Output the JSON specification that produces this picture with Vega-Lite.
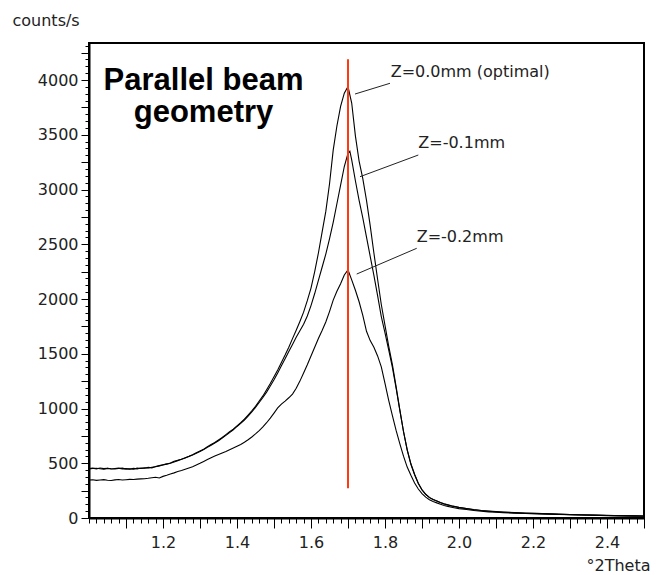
{
  "$schema": "https://vega.github.io/schema/vega-lite/v6.json",
  "width": 555,
  "height": 475,
  "autosize": {"type": "none"},
  "padding": {"left": 89, "top": 43, "right": 12, "bottom": 57},
  "background": "#ffffff",
  "config": {
    "view": {"stroke": "#000000", "strokeWidth": 2},
    "font": "DejaVu Sans"
  },
  "datasets": {
    "scans": [
      {"z": "0.0", "t": 1.00, "c": 452}, {"z": "0.0", "t": 1.01, "c": 455}, {"z": "0.0", "t": 1.02, "c": 449}, {"z": "0.0", "t": 1.03, "c": 456}, {"z": "0.0", "t": 1.04, "c": 451},
      {"z": "0.0", "t": 1.05, "c": 453}, {"z": "0.0", "t": 1.06, "c": 447}, {"z": "0.0", "t": 1.07, "c": 452}, {"z": "0.0", "t": 1.08, "c": 455}, {"z": "0.0", "t": 1.09, "c": 449},
      {"z": "0.0", "t": 1.10, "c": 451}, {"z": "0.0", "t": 1.11, "c": 446}, {"z": "0.0", "t": 1.12, "c": 453}, {"z": "0.0", "t": 1.13, "c": 449}, {"z": "0.0", "t": 1.14, "c": 457},
      {"z": "0.0", "t": 1.15, "c": 455}, {"z": "0.0", "t": 1.16, "c": 462}, {"z": "0.0", "t": 1.17, "c": 458}, {"z": "0.0", "t": 1.18, "c": 470}, {"z": "0.0", "t": 1.19, "c": 478},
      {"z": "0.0", "t": 1.20, "c": 486}, {"z": "0.0", "t": 1.21, "c": 494}, {"z": "0.0", "t": 1.22, "c": 503}, {"z": "0.0", "t": 1.23, "c": 518}, {"z": "0.0", "t": 1.24, "c": 528},
      {"z": "0.0", "t": 1.25, "c": 537}, {"z": "0.0", "t": 1.26, "c": 551}, {"z": "0.0", "t": 1.27, "c": 563}, {"z": "0.0", "t": 1.28, "c": 578}, {"z": "0.0", "t": 1.29, "c": 596},
      {"z": "0.0", "t": 1.30, "c": 612}, {"z": "0.0", "t": 1.31, "c": 628}, {"z": "0.0", "t": 1.32, "c": 650}, {"z": "0.0", "t": 1.33, "c": 671}, {"z": "0.0", "t": 1.34, "c": 690},
      {"z": "0.0", "t": 1.35, "c": 712}, {"z": "0.0", "t": 1.36, "c": 735}, {"z": "0.0", "t": 1.37, "c": 762}, {"z": "0.0", "t": 1.38, "c": 788}, {"z": "0.0", "t": 1.39, "c": 812},
      {"z": "0.0", "t": 1.40, "c": 842}, {"z": "0.0", "t": 1.41, "c": 870}, {"z": "0.0", "t": 1.42, "c": 902}, {"z": "0.0", "t": 1.43, "c": 940}, {"z": "0.0", "t": 1.44, "c": 978},
      {"z": "0.0", "t": 1.45, "c": 1020}, {"z": "0.0", "t": 1.46, "c": 1068}, {"z": "0.0", "t": 1.47, "c": 1115}, {"z": "0.0", "t": 1.48, "c": 1172}, {"z": "0.0", "t": 1.49, "c": 1228},
      {"z": "0.0", "t": 1.50, "c": 1290}, {"z": "0.0", "t": 1.51, "c": 1352}, {"z": "0.0", "t": 1.52, "c": 1420}, {"z": "0.0", "t": 1.53, "c": 1488}, {"z": "0.0", "t": 1.54, "c": 1560},
      {"z": "0.0", "t": 1.55, "c": 1638}, {"z": "0.0", "t": 1.56, "c": 1715}, {"z": "0.0", "t": 1.57, "c": 1795}, {"z": "0.0", "t": 1.58, "c": 1880}, {"z": "0.0", "t": 1.59, "c": 1985},
      {"z": "0.0", "t": 1.60, "c": 2100}, {"z": "0.0", "t": 1.61, "c": 2250}, {"z": "0.0", "t": 1.62, "c": 2420}, {"z": "0.0", "t": 1.63, "c": 2610}, {"z": "0.0", "t": 1.64, "c": 2800},
      {"z": "0.0", "t": 1.65, "c": 3050}, {"z": "0.0", "t": 1.66, "c": 3360}, {"z": "0.0", "t": 1.67, "c": 3580}, {"z": "0.0", "t": 1.68, "c": 3760}, {"z": "0.0", "t": 1.69, "c": 3880},
      {"z": "0.0", "t": 1.70, "c": 3940}, {"z": "0.0", "t": 1.71, "c": 3790}, {"z": "0.0", "t": 1.72, "c": 3490}, {"z": "0.0", "t": 1.73, "c": 3260}, {"z": "0.0", "t": 1.74, "c": 3100},
      {"z": "0.0", "t": 1.75, "c": 2900}, {"z": "0.0", "t": 1.76, "c": 2670}, {"z": "0.0", "t": 1.77, "c": 2420}, {"z": "0.0", "t": 1.78, "c": 2180}, {"z": "0.0", "t": 1.79, "c": 1950},
      {"z": "0.0", "t": 1.80, "c": 1760}, {"z": "0.0", "t": 1.81, "c": 1570}, {"z": "0.0", "t": 1.82, "c": 1400}, {"z": "0.0", "t": 1.83, "c": 1200}, {"z": "0.0", "t": 1.84, "c": 990},
      {"z": "0.0", "t": 1.85, "c": 790}, {"z": "0.0", "t": 1.86, "c": 620}, {"z": "0.0", "t": 1.87, "c": 490}, {"z": "0.0", "t": 1.88, "c": 395}, {"z": "0.0", "t": 1.89, "c": 315},
      {"z": "0.0", "t": 1.90, "c": 256}, {"z": "0.0", "t": 1.91, "c": 215}, {"z": "0.0", "t": 1.92, "c": 186}, {"z": "0.0", "t": 1.93, "c": 168}, {"z": "0.0", "t": 1.94, "c": 155},
      {"z": "0.0", "t": 1.95, "c": 140}, {"z": "0.0", "t": 1.96, "c": 128}, {"z": "0.0", "t": 1.97, "c": 119}, {"z": "0.0", "t": 1.98, "c": 110}, {"z": "0.0", "t": 1.99, "c": 103},
      {"z": "0.0", "t": 2.00, "c": 96}, {"z": "0.0", "t": 2.02, "c": 86}, {"z": "0.0", "t": 2.04, "c": 76}, {"z": "0.0", "t": 2.06, "c": 68}, {"z": "0.0", "t": 2.08, "c": 62},
      {"z": "0.0", "t": 2.10, "c": 57}, {"z": "0.0", "t": 2.12, "c": 53}, {"z": "0.0", "t": 2.15, "c": 48}, {"z": "0.0", "t": 2.18, "c": 44}, {"z": "0.0", "t": 2.21, "c": 41},
      {"z": "0.0", "t": 2.24, "c": 38}, {"z": "0.0", "t": 2.27, "c": 34}, {"z": "0.0", "t": 2.30, "c": 31}, {"z": "0.0", "t": 2.33, "c": 28}, {"z": "0.0", "t": 2.36, "c": 26},
      {"z": "0.0", "t": 2.40, "c": 23}, {"z": "0.0", "t": 2.44, "c": 21}, {"z": "0.0", "t": 2.47, "c": 19}, {"z": "0.0", "t": 2.50, "c": 18},

      {"z": "-0.1", "t": 1.00, "c": 448}, {"z": "-0.1", "t": 1.01, "c": 452}, {"z": "-0.1", "t": 1.02, "c": 455}, {"z": "-0.1", "t": 1.03, "c": 450}, {"z": "-0.1", "t": 1.04, "c": 446},
      {"z": "-0.1", "t": 1.05, "c": 454}, {"z": "-0.1", "t": 1.06, "c": 450}, {"z": "-0.1", "t": 1.07, "c": 448}, {"z": "-0.1", "t": 1.08, "c": 452}, {"z": "-0.1", "t": 1.09, "c": 455},
      {"z": "-0.1", "t": 1.10, "c": 447}, {"z": "-0.1", "t": 1.11, "c": 450}, {"z": "-0.1", "t": 1.12, "c": 446}, {"z": "-0.1", "t": 1.13, "c": 455}, {"z": "-0.1", "t": 1.14, "c": 452},
      {"z": "-0.1", "t": 1.15, "c": 458}, {"z": "-0.1", "t": 1.16, "c": 456}, {"z": "-0.1", "t": 1.17, "c": 464}, {"z": "-0.1", "t": 1.18, "c": 468}, {"z": "-0.1", "t": 1.19, "c": 476},
      {"z": "-0.1", "t": 1.20, "c": 484}, {"z": "-0.1", "t": 1.21, "c": 492}, {"z": "-0.1", "t": 1.22, "c": 500}, {"z": "-0.1", "t": 1.23, "c": 512}, {"z": "-0.1", "t": 1.24, "c": 524},
      {"z": "-0.1", "t": 1.25, "c": 536}, {"z": "-0.1", "t": 1.26, "c": 548}, {"z": "-0.1", "t": 1.27, "c": 561}, {"z": "-0.1", "t": 1.28, "c": 575}, {"z": "-0.1", "t": 1.29, "c": 592},
      {"z": "-0.1", "t": 1.30, "c": 608}, {"z": "-0.1", "t": 1.31, "c": 626}, {"z": "-0.1", "t": 1.32, "c": 645}, {"z": "-0.1", "t": 1.33, "c": 665}, {"z": "-0.1", "t": 1.34, "c": 685},
      {"z": "-0.1", "t": 1.35, "c": 706}, {"z": "-0.1", "t": 1.36, "c": 730}, {"z": "-0.1", "t": 1.37, "c": 755}, {"z": "-0.1", "t": 1.38, "c": 780}, {"z": "-0.1", "t": 1.39, "c": 806},
      {"z": "-0.1", "t": 1.40, "c": 836}, {"z": "-0.1", "t": 1.41, "c": 864}, {"z": "-0.1", "t": 1.42, "c": 895}, {"z": "-0.1", "t": 1.43, "c": 930}, {"z": "-0.1", "t": 1.44, "c": 968},
      {"z": "-0.1", "t": 1.45, "c": 1010}, {"z": "-0.1", "t": 1.46, "c": 1055}, {"z": "-0.1", "t": 1.47, "c": 1100}, {"z": "-0.1", "t": 1.48, "c": 1150}, {"z": "-0.1", "t": 1.49, "c": 1205},
      {"z": "-0.1", "t": 1.50, "c": 1262}, {"z": "-0.1", "t": 1.51, "c": 1325}, {"z": "-0.1", "t": 1.52, "c": 1390}, {"z": "-0.1", "t": 1.53, "c": 1455}, {"z": "-0.1", "t": 1.54, "c": 1520},
      {"z": "-0.1", "t": 1.55, "c": 1585}, {"z": "-0.1", "t": 1.56, "c": 1650}, {"z": "-0.1", "t": 1.57, "c": 1710}, {"z": "-0.1", "t": 1.58, "c": 1770}, {"z": "-0.1", "t": 1.59, "c": 1845},
      {"z": "-0.1", "t": 1.60, "c": 1940}, {"z": "-0.1", "t": 1.61, "c": 2050}, {"z": "-0.1", "t": 1.62, "c": 2170}, {"z": "-0.1", "t": 1.63, "c": 2290}, {"z": "-0.1", "t": 1.64, "c": 2410},
      {"z": "-0.1", "t": 1.65, "c": 2550}, {"z": "-0.1", "t": 1.66, "c": 2700}, {"z": "-0.1", "t": 1.67, "c": 2870}, {"z": "-0.1", "t": 1.68, "c": 3040}, {"z": "-0.1", "t": 1.69, "c": 3210},
      {"z": "-0.1", "t": 1.70, "c": 3330}, {"z": "-0.1", "t": 1.705, "c": 3350}, {"z": "-0.1", "t": 1.71, "c": 3270}, {"z": "-0.1", "t": 1.72, "c": 3080}, {"z": "-0.1", "t": 1.73, "c": 2900},
      {"z": "-0.1", "t": 1.74, "c": 2740}, {"z": "-0.1", "t": 1.75, "c": 2565}, {"z": "-0.1", "t": 1.76, "c": 2390}, {"z": "-0.1", "t": 1.77, "c": 2215}, {"z": "-0.1", "t": 1.78, "c": 2030},
      {"z": "-0.1", "t": 1.79, "c": 1840}, {"z": "-0.1", "t": 1.80, "c": 1690}, {"z": "-0.1", "t": 1.81, "c": 1535}, {"z": "-0.1", "t": 1.82, "c": 1375}, {"z": "-0.1", "t": 1.83, "c": 1185},
      {"z": "-0.1", "t": 1.84, "c": 985}, {"z": "-0.1", "t": 1.85, "c": 790}, {"z": "-0.1", "t": 1.86, "c": 625}, {"z": "-0.1", "t": 1.87, "c": 495}, {"z": "-0.1", "t": 1.88, "c": 400},
      {"z": "-0.1", "t": 1.89, "c": 318}, {"z": "-0.1", "t": 1.90, "c": 258}, {"z": "-0.1", "t": 1.91, "c": 217}, {"z": "-0.1", "t": 1.92, "c": 188}, {"z": "-0.1", "t": 1.93, "c": 170},
      {"z": "-0.1", "t": 1.94, "c": 156}, {"z": "-0.1", "t": 1.95, "c": 142}, {"z": "-0.1", "t": 1.96, "c": 129}, {"z": "-0.1", "t": 1.97, "c": 120}, {"z": "-0.1", "t": 1.98, "c": 111},
      {"z": "-0.1", "t": 1.99, "c": 104}, {"z": "-0.1", "t": 2.00, "c": 97}, {"z": "-0.1", "t": 2.02, "c": 87}, {"z": "-0.1", "t": 2.04, "c": 77}, {"z": "-0.1", "t": 2.06, "c": 69},
      {"z": "-0.1", "t": 2.08, "c": 63}, {"z": "-0.1", "t": 2.10, "c": 58}, {"z": "-0.1", "t": 2.12, "c": 54}, {"z": "-0.1", "t": 2.15, "c": 49}, {"z": "-0.1", "t": 2.18, "c": 45},
      {"z": "-0.1", "t": 2.21, "c": 42}, {"z": "-0.1", "t": 2.24, "c": 39}, {"z": "-0.1", "t": 2.27, "c": 35}, {"z": "-0.1", "t": 2.30, "c": 32}, {"z": "-0.1", "t": 2.33, "c": 29},
      {"z": "-0.1", "t": 2.36, "c": 27}, {"z": "-0.1", "t": 2.40, "c": 24}, {"z": "-0.1", "t": 2.44, "c": 21}, {"z": "-0.1", "t": 2.47, "c": 20}, {"z": "-0.1", "t": 2.50, "c": 18},

      {"z": "-0.2", "t": 1.00, "c": 346}, {"z": "-0.2", "t": 1.01, "c": 349}, {"z": "-0.2", "t": 1.02, "c": 344}, {"z": "-0.2", "t": 1.03, "c": 347}, {"z": "-0.2", "t": 1.04, "c": 350},
      {"z": "-0.2", "t": 1.05, "c": 345}, {"z": "-0.2", "t": 1.06, "c": 342}, {"z": "-0.2", "t": 1.07, "c": 348}, {"z": "-0.2", "t": 1.08, "c": 351}, {"z": "-0.2", "t": 1.09, "c": 347},
      {"z": "-0.2", "t": 1.10, "c": 350}, {"z": "-0.2", "t": 1.11, "c": 353}, {"z": "-0.2", "t": 1.12, "c": 351}, {"z": "-0.2", "t": 1.13, "c": 355}, {"z": "-0.2", "t": 1.14, "c": 357},
      {"z": "-0.2", "t": 1.15, "c": 359}, {"z": "-0.2", "t": 1.16, "c": 363}, {"z": "-0.2", "t": 1.17, "c": 368}, {"z": "-0.2", "t": 1.18, "c": 372}, {"z": "-0.2", "t": 1.19, "c": 366},
      {"z": "-0.2", "t": 1.20, "c": 380}, {"z": "-0.2", "t": 1.21, "c": 390}, {"z": "-0.2", "t": 1.22, "c": 401}, {"z": "-0.2", "t": 1.23, "c": 412}, {"z": "-0.2", "t": 1.24, "c": 424},
      {"z": "-0.2", "t": 1.25, "c": 434}, {"z": "-0.2", "t": 1.26, "c": 446}, {"z": "-0.2", "t": 1.27, "c": 457}, {"z": "-0.2", "t": 1.28, "c": 468}, {"z": "-0.2", "t": 1.29, "c": 484},
      {"z": "-0.2", "t": 1.30, "c": 500}, {"z": "-0.2", "t": 1.31, "c": 517}, {"z": "-0.2", "t": 1.32, "c": 534}, {"z": "-0.2", "t": 1.33, "c": 551}, {"z": "-0.2", "t": 1.34, "c": 566},
      {"z": "-0.2", "t": 1.35, "c": 580}, {"z": "-0.2", "t": 1.36, "c": 594}, {"z": "-0.2", "t": 1.37, "c": 608}, {"z": "-0.2", "t": 1.38, "c": 624}, {"z": "-0.2", "t": 1.39, "c": 640},
      {"z": "-0.2", "t": 1.40, "c": 656}, {"z": "-0.2", "t": 1.41, "c": 672}, {"z": "-0.2", "t": 1.42, "c": 692}, {"z": "-0.2", "t": 1.43, "c": 715}, {"z": "-0.2", "t": 1.44, "c": 740},
      {"z": "-0.2", "t": 1.45, "c": 768}, {"z": "-0.2", "t": 1.46, "c": 798}, {"z": "-0.2", "t": 1.47, "c": 832}, {"z": "-0.2", "t": 1.48, "c": 870}, {"z": "-0.2", "t": 1.49, "c": 912},
      {"z": "-0.2", "t": 1.50, "c": 958}, {"z": "-0.2", "t": 1.51, "c": 1005}, {"z": "-0.2", "t": 1.52, "c": 1040}, {"z": "-0.2", "t": 1.53, "c": 1068}, {"z": "-0.2", "t": 1.54, "c": 1098},
      {"z": "-0.2", "t": 1.55, "c": 1132}, {"z": "-0.2", "t": 1.56, "c": 1185}, {"z": "-0.2", "t": 1.57, "c": 1250}, {"z": "-0.2", "t": 1.58, "c": 1325}, {"z": "-0.2", "t": 1.59, "c": 1400},
      {"z": "-0.2", "t": 1.60, "c": 1480}, {"z": "-0.2", "t": 1.61, "c": 1560}, {"z": "-0.2", "t": 1.62, "c": 1640}, {"z": "-0.2", "t": 1.63, "c": 1712}, {"z": "-0.2", "t": 1.64, "c": 1790},
      {"z": "-0.2", "t": 1.65, "c": 1885}, {"z": "-0.2", "t": 1.66, "c": 1990}, {"z": "-0.2", "t": 1.67, "c": 2070}, {"z": "-0.2", "t": 1.68, "c": 2140}, {"z": "-0.2", "t": 1.69, "c": 2220},
      {"z": "-0.2", "t": 1.70, "c": 2265}, {"z": "-0.2", "t": 1.71, "c": 2175}, {"z": "-0.2", "t": 1.72, "c": 2080}, {"z": "-0.2", "t": 1.73, "c": 1975}, {"z": "-0.2", "t": 1.74, "c": 1850},
      {"z": "-0.2", "t": 1.75, "c": 1705}, {"z": "-0.2", "t": 1.76, "c": 1620}, {"z": "-0.2", "t": 1.77, "c": 1560}, {"z": "-0.2", "t": 1.78, "c": 1480}, {"z": "-0.2", "t": 1.79, "c": 1380},
      {"z": "-0.2", "t": 1.80, "c": 1230}, {"z": "-0.2", "t": 1.81, "c": 1075}, {"z": "-0.2", "t": 1.82, "c": 935}, {"z": "-0.2", "t": 1.83, "c": 800}, {"z": "-0.2", "t": 1.84, "c": 680},
      {"z": "-0.2", "t": 1.85, "c": 565}, {"z": "-0.2", "t": 1.86, "c": 465}, {"z": "-0.2", "t": 1.87, "c": 390}, {"z": "-0.2", "t": 1.88, "c": 320}, {"z": "-0.2", "t": 1.89, "c": 265},
      {"z": "-0.2", "t": 1.90, "c": 222}, {"z": "-0.2", "t": 1.91, "c": 190}, {"z": "-0.2", "t": 1.92, "c": 166}, {"z": "-0.2", "t": 1.93, "c": 150}, {"z": "-0.2", "t": 1.94, "c": 138},
      {"z": "-0.2", "t": 1.95, "c": 126}, {"z": "-0.2", "t": 1.96, "c": 115}, {"z": "-0.2", "t": 1.97, "c": 106}, {"z": "-0.2", "t": 1.98, "c": 98}, {"z": "-0.2", "t": 1.99, "c": 92},
      {"z": "-0.2", "t": 2.00, "c": 86}, {"z": "-0.2", "t": 2.02, "c": 77}, {"z": "-0.2", "t": 2.04, "c": 69}, {"z": "-0.2", "t": 2.06, "c": 62}, {"z": "-0.2", "t": 2.08, "c": 56},
      {"z": "-0.2", "t": 2.10, "c": 52}, {"z": "-0.2", "t": 2.12, "c": 48}, {"z": "-0.2", "t": 2.15, "c": 44}, {"z": "-0.2", "t": 2.18, "c": 41}, {"z": "-0.2", "t": 2.21, "c": 38},
      {"z": "-0.2", "t": 2.24, "c": 35}, {"z": "-0.2", "t": 2.27, "c": 32}, {"z": "-0.2", "t": 2.30, "c": 29}, {"z": "-0.2", "t": 2.33, "c": 27}, {"z": "-0.2", "t": 2.36, "c": 25},
      {"z": "-0.2", "t": 2.40, "c": 22}, {"z": "-0.2", "t": 2.44, "c": 19}, {"z": "-0.2", "t": 2.47, "c": 17}, {"z": "-0.2", "t": 2.50, "c": 16}
    ],
    "marker": [
      {"t": 1.7, "lo": 272, "hi": 4190}
    ],
    "callouts": [
      {"label": "Z=0.0mm (optimal)", "t0": 1.719, "c0": 3872, "t1": 1.8135, "c1": 3970, "tl": 1.8154, "cl": 4030},
      {"label": "Z=-0.1mm", "t0": 1.7324, "c0": 3117, "t1": 1.890, "c1": 3315, "tl": 1.890, "cl": 3376},
      {"label": "Z=-0.2mm", "t0": 1.7235, "c0": 2228, "t1": 1.8857, "c1": 2463, "tl": 1.8857, "cl": 2523}
    ],
    "heading": [
      {"line": "Parallel beam", "t": 1.3095, "c": 3909},
      {"line": "geometry", "t": 1.3095, "c": 3619}
    ]
  },
  "resolve": {"axis": {"x": "independent", "y": "independent"}},
  "layer": [
    {
      "data": {"name": "scans"},
      "mark": {"type": "line", "color": "#000000", "strokeWidth": 1.1, "clip": true},
      "encoding": {
        "x": {
          "field": "t", "type": "quantitative",
          "scale": {"domain": [1.0, 2.5], "nice": false, "zero": false},
          "axis": {
            "orient": "bottom",
            "values": [1.1, 1.2, 1.3, 1.4, 1.5, 1.6, 1.7, 1.8, 1.9, 2.0, 2.1, 2.2, 2.3, 2.4, 2.5],
            "grid": false,
            "domain": true, "domainColor": "#000000", "domainWidth": 2,
            "ticks": true, "tickSize": 10, "tickColor": "#000000", "tickWidth": 1,
            "labelExpr": "round(datum.value * 10) % 2 === 0 ? format(datum.value, '.1f') : ''",
            "labelFont": "DejaVu Sans", "labelFontSize": 16, "labelColor": "#222222",
            "labelBaseline": "alphabetic", "labelPadding": 19,
            "labelOverlap": false, "labelFlush": false, "labelBound": false,
            "title": "°2Theta",
            "titleFont": "DejaVu Sans", "titleFontSize": 16, "titleFontWeight": "normal", "titleColor": "#222222",
            "titleAlign": "right", "titleBaseline": "alphabetic", "titleAnchor": null,
            "titleX": 561, "titleY": 52
          }
        },
        "y": {
          "field": "c", "type": "quantitative",
          "scale": {"domain": [0, 4338], "nice": false, "zero": false},
          "axis": {
            "orient": "left",
            "values": [0, 250, 500, 750, 1000, 1250, 1500, 1750, 2000, 2250, 2500, 2750, 3000, 3250, 3500, 3750, 4000, 4250],
            "grid": false,
            "domain": true, "domainColor": "#000000", "domainWidth": 2,
            "ticks": true, "tickSize": 8, "tickColor": "#000000", "tickWidth": 1,
            "labelExpr": "datum.value % 500 === 0 ? format(datum.value, 'd') : ''",
            "labelFont": "DejaVu Sans", "labelFontSize": 16, "labelColor": "#222222",
            "labelBaseline": "middle", "labelPadding": 3,
            "labelOverlap": false, "labelFlush": false, "labelBound": false,
            "title": "counts/s",
            "titleFont": "DejaVu Sans", "titleFontSize": 16, "titleFontWeight": "normal", "titleColor": "#222222",
            "titleAngle": 0, "titleAlign": "left", "titleBaseline": "alphabetic", "titleAnchor": null,
            "titleX": -77, "titleY": -18
          }
        },
        "detail": {"field": "z"}
      }
    },
    {
      "data": {"name": "marker"},
      "mark": {"type": "rule", "color": "#ff3a12", "strokeWidth": 2},
      "encoding": {
        "x": {
          "field": "t", "type": "quantitative",
          "scale": {"domain": [1.0, 2.5], "nice": false, "zero": false},
          "axis": {
            "orient": "bottom",
            "values": [1.0, 1.02, 1.04, 1.06, 1.08, 1.1, 1.12, 1.14, 1.16, 1.18, 1.2, 1.22, 1.24, 1.26, 1.28, 1.3, 1.32, 1.34, 1.36, 1.38, 1.4, 1.42, 1.44, 1.46, 1.48, 1.5, 1.52, 1.54, 1.56, 1.58, 1.6, 1.62, 1.64, 1.66, 1.68, 1.7, 1.72, 1.74, 1.76, 1.78, 1.8, 1.82, 1.84, 1.86, 1.88, 1.9, 1.92, 1.94, 1.96, 1.98, 2.0, 2.02, 2.04, 2.06, 2.08, 2.1, 2.12, 2.14, 2.16, 2.18, 2.2, 2.22, 2.24, 2.26, 2.28, 2.3, 2.32, 2.34, 2.36, 2.38, 2.4, 2.42, 2.44, 2.46, 2.48, 2.5],
            "grid": false, "domain": false, "labels": false, "title": null,
            "ticks": true, "tickSize": 5, "tickColor": "#000000", "tickWidth": 1
          }
        },
        "y": {
          "field": "lo", "type": "quantitative",
          "scale": {"domain": [0, 4338], "nice": false, "zero": false},
          "axis": {
            "orient": "left",
            "values": [0, 62.5, 125, 187.5, 250, 312.5, 375, 437.5, 500, 562.5, 625, 687.5, 750, 812.5, 875, 937.5, 1000, 1062.5, 1125, 1187.5, 1250, 1312.5, 1375, 1437.5, 1500, 1562.5, 1625, 1687.5, 1750, 1812.5, 1875, 1937.5, 2000, 2062.5, 2125, 2187.5, 2250, 2312.5, 2375, 2437.5, 2500, 2562.5, 2625, 2687.5, 2750, 2812.5, 2875, 2937.5, 3000, 3062.5, 3125, 3187.5, 3250, 3312.5, 3375, 3437.5, 3500, 3562.5, 3625, 3687.5, 3750, 3812.5, 3875, 3937.5, 4000, 4062.5, 4125, 4187.5, 4250, 4312.5],
            "grid": false, "domain": false, "labels": false, "title": null,
            "ticks": true, "tickSize": 4, "tickColor": "#000000", "tickWidth": 1
          }
        },
        "y2": {"field": "hi"}
      }
    },
    {
      "data": {"name": "callouts"},
      "mark": {"type": "rule", "color": "#222222", "strokeWidth": 1},
      "encoding": {
        "x": {"field": "t0", "type": "quantitative", "scale": {"domain": [1.0, 2.5], "nice": false, "zero": false}, "axis": null},
        "x2": {"field": "t1"},
        "y": {"field": "c0", "type": "quantitative", "scale": {"domain": [0, 4338], "nice": false, "zero": false}, "axis": null},
        "y2": {"field": "c1"}
      }
    },
    {
      "data": {"name": "callouts"},
      "mark": {"type": "text", "font": "DejaVu Sans", "fontSize": 16, "color": "#222222", "align": "left", "baseline": "alphabetic"},
      "encoding": {
        "x": {"field": "tl", "type": "quantitative", "scale": {"domain": [1.0, 2.5], "nice": false, "zero": false}, "axis": null},
        "y": {"field": "cl", "type": "quantitative", "scale": {"domain": [0, 4338], "nice": false, "zero": false}, "axis": null},
        "text": {"field": "label"}
      }
    },
    {
      "data": {"name": "heading"},
      "mark": {"type": "text", "font": "Liberation Sans", "fontSize": 31, "fontWeight": "bold", "color": "#000000", "align": "center", "baseline": "alphabetic"},
      "encoding": {
        "x": {"field": "t", "type": "quantitative", "scale": {"domain": [1.0, 2.5], "nice": false, "zero": false}, "axis": null},
        "y": {"field": "c", "type": "quantitative", "scale": {"domain": [0, 4338], "nice": false, "zero": false}, "axis": null},
        "text": {"field": "line"}
      }
    }
  ]
}
